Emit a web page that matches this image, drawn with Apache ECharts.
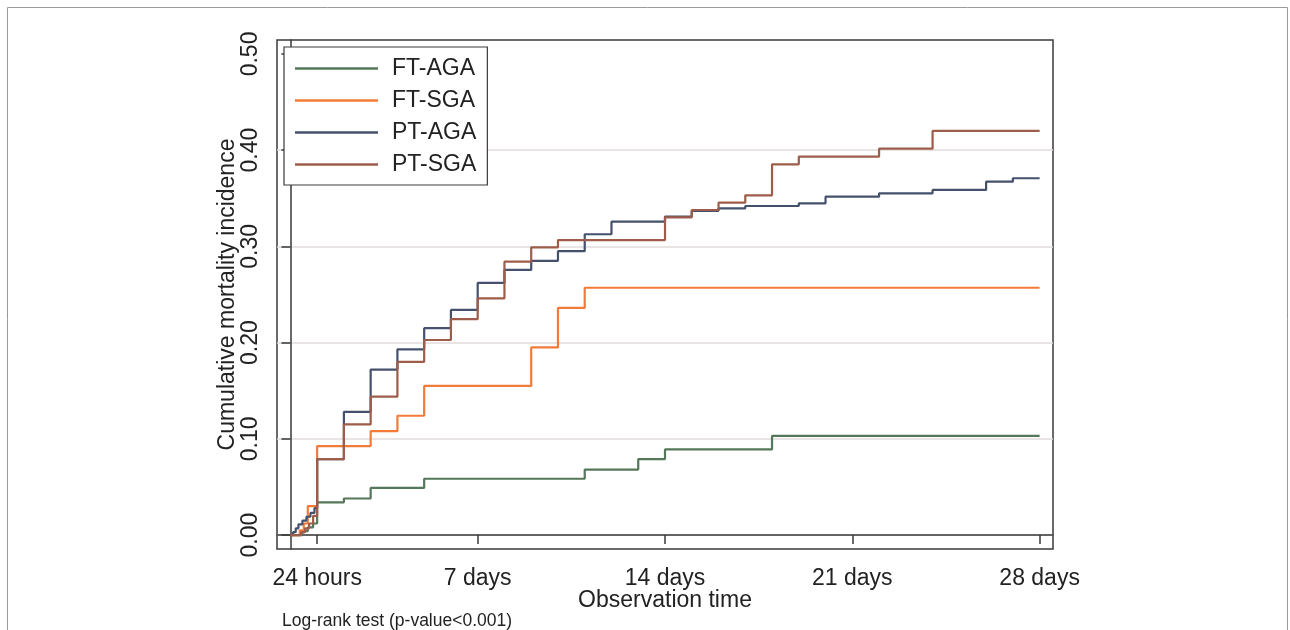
<!DOCTYPE html>
<html>
<head>
<meta charset="utf-8">
<script src="https://cdn.jsdelivr.net/npm/echarts@6/dist/echarts.min.js"></script>
<style>
html,body{margin:0;padding:0;background:#fff;}
#chart{width:1290px;height:630px;}
</style>
</head>
<body>
<div id="chart"></div>
<script>
// ---- data (time in days, cumulative incidence) ----
const seriesNames = ['FT-AGA', 'FT-SGA', 'PT-AGA', 'PT-SGA'];
const ftAga = [[0,0],[0.45,0.004],[0.65,0.008],[0.85,0.012],[1,0.034],[2,0.038],[3,0.049],[5,0.0585],[11,0.068],[13,0.079],[14,0.089],[18,0.103],[28,0.103]];
const ftSga = [[0,0],[0.35,0.005],[0.5,0.012],[0.65,0.03],[1,0.0925],[3,0.108],[4,0.124],[5,0.155],[9,0.195],[10,0.236],[11,0.257],[28,0.257]];
const ptAga = [[0,0],[0.1,0.003],[0.2,0.007],[0.3,0.011],[0.45,0.015],[0.6,0.019],[0.75,0.023],[0.9,0.028],[1,0.079],[2,0.128],[3,0.172],[4,0.193],[5,0.215],[6,0.234],[7,0.262],[8,0.2755],[9,0.285],[10,0.295],[11,0.3126],[12,0.3257],[14,0.331],[15,0.337],[16,0.3396],[17,0.342],[19,0.3448],[20,0.3517],[22,0.3552],[24,0.3587],[26,0.3673],[27,0.3708],[28,0.3708]];
const ptSga = [[0,0],[0.4,0.003],[0.55,0.007],[0.7,0.012],[0.85,0.02],[1,0.079],[2,0.115],[3,0.1438],[4,0.18],[5,0.2027],[6,0.2245],[7,0.246],[8,0.2841],[9,0.299],[10,0.3066],[14,0.3302],[15,0.3378],[16,0.3454],[17,0.3531],[18,0.3853],[19,0.3933],[22,0.4016],[24,0.42],[28,0.42]];
const xTickValues = [1, 7, 14, 21, 28];
const xTickLabels = ['24 hours', '7 days', '14 days', '21 days', '28 days'];
const yTickValues = [0, 0.1, 0.2, 0.3, 0.4, 0.5];

const colors = ['#55775a', '#f27b3a', '#44506c', '#9e5c4a'];
const FONT = '"Liberation Sans", Arial, sans-serif';
const seriesData = [ftAga, ftSga, ptAga, ptSga];
const GRID = '#e2dddd';

const chart = echarts.init(document.getElementById('chart'), null, {renderer: 'canvas'});
chart.setOption({
  animation: false,
  backgroundColor: '#fff',
  color: colors,
  textStyle: {fontFamily: FONT, color: '#222'},
  grid: {left: 277, top: 40, width: 776, height: 509, show: true, borderColor: '#3a3a3a', borderWidth: 1.5, backgroundColor: 'transparent'},
  legend: {
    orient: 'vertical', left: 284, top: 47,
    icon: 'rect', itemWidth: 83, itemHeight: 2.5, itemGap: 9,
    padding: [10, 11, 9, 11],
    borderColor: '#3a3a3a', borderWidth: 1.2, backgroundColor: '#fff',
    textStyle: {fontFamily: FONT, fontSize: 23, lineHeight: 23, color: '#222', padding: [0, 0, 0, 9]},
    data: seriesNames
  },
  xAxis: {
    type: 'value', min: -0.5, max: 28.5,
    name: 'Observation time', nameLocation: 'middle', nameGap: 40, nameMoveOverlap: false,
    nameTextStyle: {fontFamily: FONT, fontSize: 23, color: '#222'},
    axisLine: {show: true, lineStyle: {color: '#3a3a3a', width: 1.5}},
    axisTick: {show: true, length: 9, customValues: xTickValues, lineStyle: {color: '#3a3a3a', width: 1.5}},
    axisLabel: {customValues: xTickValues, margin: 18, fontFamily: FONT, fontSize: 23, color: '#222',
      formatter: function (v) { const i = xTickValues.indexOf(v); return i >= 0 ? xTickLabels[i] : ''; }},
    splitLine: {show: false}
  },
  yAxis: {
    type: 'value', min: -0.0145, max: 0.5145,
    name: 'Cumulative mortality incidence', nameLocation: 'middle', nameGap: 38, nameMoveOverlap: false,
    nameTextStyle: {fontFamily: FONT, fontSize: 23, color: '#222'},
    axisLine: {show: true, lineStyle: {color: '#3a3a3a', width: 1.5}},
    axisTick: {show: true, length: 9, customValues: yTickValues, lineStyle: {color: '#3a3a3a', width: 1.5}},
    axisLabel: {customValues: yTickValues, rotate: 90, margin: 15, fontFamily: FONT, fontSize: 23, color: '#222',
      formatter: function (v) { return v.toFixed(2); }},
    splitLine: {show: true, lineStyle: {color: [GRID, GRID, GRID, GRID, GRID, 'rgba(0,0,0,0)'], width: 1.5}}
  },
  graphic: [
    {type: 'rect', left: 5, top: 5, z: -10, silent: true,
      shape: {width: 1280, height: 640}, style: {fill: 'none', stroke: '#9a9a9a', lineWidth: 1}},
    {type: 'text', left: 282, top: 612, silent: true,
      style: {text: 'Log-rank test (p-value<0.001)', font: '17.5px ' + FONT, fill: '#222'}}
  ],
  series: seriesNames.map(function (n, i) {
    return {
      name: n, type: 'line', step: 'end', data: seriesData[i],
      showSymbol: false, symbol: 'none', clip: false,
      lineStyle: {width: 2.2, color: colors[i]}, z: 3 + i
    };
  })
});
</script>
</body>
</html>
